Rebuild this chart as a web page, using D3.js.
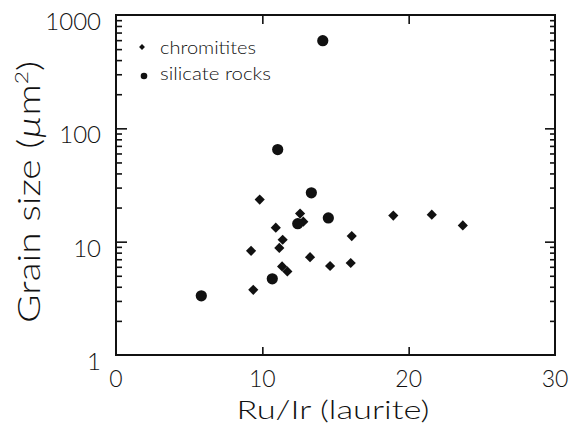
<!DOCTYPE html>
<html><head><meta charset="utf-8">
<script src="https://cdn.jsdelivr.net/npm/d3@7"></script>
<style>
html,body{margin:0;padding:0;background:#fff;}
svg text{font-family:Lato,"DejaVu Sans",sans-serif;fill:#111;font-weight:300;}
</style></head>
<body><svg id="c" width="569" height="434"></svg>
<script>
// data
const chromX = [9.82, 12.58, 12.8, 10.92, 11.39, 11.16, 9.23, 13.26, 14.63, 11.35, 11.71, 9.38, 16.11, 16.04, 18.95, 21.58, 23.7];
const chromY = [23.5, 17.7, 15.0, 13.3, 10.4, 8.8, 8.3, 7.3, 6.1, 6.05, 5.46, 3.76, 11.2, 6.48, 17.0, 17.3, 13.9];
const silX = [5.83, 10.68, 11.05, 12.42, 13.35, 14.51, 14.13];
const silY = [3.33, 4.7, 65, 14.4, 27, 16.2, 593];
const xTicks = [0, 10, 20, 30];
const yTicks = [1, 10, 100, 1000];
const legendLabels = ["chromitites", "silicate rocks"];
const xTitle = "Ru/Ir (laurite)";

const svg = d3.select("#c");
const L = 116, R = 555, T = 15, B = 355;
const x = d3.scaleLinear().domain([0, 30]).range([L, R]);
const y = d3.scaleLog().domain([1, 1000]).range([B, T]);

const minor = [];
for (let d = 1; d < 1000; d *= 10) for (let k = 2; k <= 9; k++) minor.push(d * k);

const ink = "#111";
function style(g){ g.select(".domain").remove(); g.selectAll("line").attr("stroke", ink).attr("stroke-width", 1.6); }

// left axis
svg.append("g").attr("transform", `translate(${L},0)`)
  .call(d3.axisLeft(y).tickValues(minor).tickSize(-6).tickFormat(""))
  .call(style);
svg.append("g").attr("transform", `translate(${L},0)`)
  .call(d3.axisLeft(y).tickValues(yTicks.slice(1, 3)).tickSize(-11).tickFormat(""))
  .call(style);
// right axis
svg.append("g").attr("transform", `translate(${R},0)`)
  .call(d3.axisRight(y).tickValues(minor).tickSize(-5).tickFormat(""))
  .call(style);
svg.append("g").attr("transform", `translate(${R},0)`)
  .call(d3.axisRight(y).tickValues(yTicks.slice(1, 3)).tickSize(-10).tickFormat(""))
  .call(style);
// bottom / top
svg.append("g").attr("transform", `translate(0,${B})`)
  .call(d3.axisBottom(x).tickValues(xTicks.slice(1, 3)).tickSize(-8).tickFormat(""))
  .call(style);
svg.append("g").attr("transform", `translate(0,${T})`)
  .call(d3.axisTop(x).tickValues(xTicks.slice(1, 3)).tickSize(-9).tickFormat(""))
  .call(style);

// frame
svg.append("rect").attr("x", L).attr("y", T).attr("width", R - L).attr("height", B - T)
  .attr("fill", "none").attr("stroke", ink).attr("stroke-width", 2);

// y tick labels
svg.append("g").selectAll("text").data(yTicks).join("text")
  .attr("x", 101).attr("y", d => y(d) + 15)
  .attr("text-anchor", "end").attr("font-size", 24).text(d => d);
// x tick labels
svg.append("g").selectAll("text").data(xTicks).join("text")
  .attr("x", d => x(d)).attr("y", 387)
  .attr("text-anchor", "middle").attr("font-size", 23).text(d => d);

// titles
svg.append("text").attr("x", 333).attr("y", 419).attr("text-anchor", "middle")
  .attr("font-size", 25).attr("textLength", 193).attr("lengthAdjust", "spacingAndGlyphs")
  .text(xTitle);
const yt = svg.append("text").attr("transform", "translate(40,192) rotate(-90)")
  .attr("text-anchor", "middle").attr("font-size", 31)
  .attr("textLength", 262).attr("lengthAdjust", "spacingAndGlyphs");
yt.append("tspan").text("Grain size (");
yt.append("tspan").attr("font-style", "italic").text("µ");
yt.append("tspan").text("m");
yt.append("tspan").attr("dy", -12).attr("font-size", 18).text("2");
yt.append("tspan").attr("dy", 12).text(")");

// marks
const diamond = d3.symbol().type(d3.symbolDiamond2).size(66);
svg.append("g").selectAll("path").data(chromX.map((v, i) => [v, chromY[i]])).join("path")
  .attr("d", diamond).attr("transform", d => `translate(${x(d[0])},${y(d[1])})`).attr("fill", ink);
svg.append("g").selectAll("circle").data(silX.map((v, i) => [v, silY[i]])).join("circle")
  .attr("cx", d => x(d[0])).attr("cy", d => y(d[1])).attr("r", 5.6).attr("fill", ink);

// legend
svg.append("path").attr("d", d3.symbol().type(d3.symbolDiamond2).size(22)).attr("transform", "translate(142,47)").attr("fill", ink);
svg.append("circle").attr("cx", 144).attr("cy", 76).attr("r", 3.3).attr("fill", ink);
svg.append("text").attr("x", 160).attr("y", 54).attr("font-size", 17).attr("textLength", 96).attr("lengthAdjust", "spacingAndGlyphs").text(legendLabels[0]);
svg.append("text").attr("x", 160).attr("y", 80).attr("font-size", 17).attr("textLength", 111).attr("lengthAdjust", "spacingAndGlyphs").text(legendLabels[1]);
</script></body></html>
